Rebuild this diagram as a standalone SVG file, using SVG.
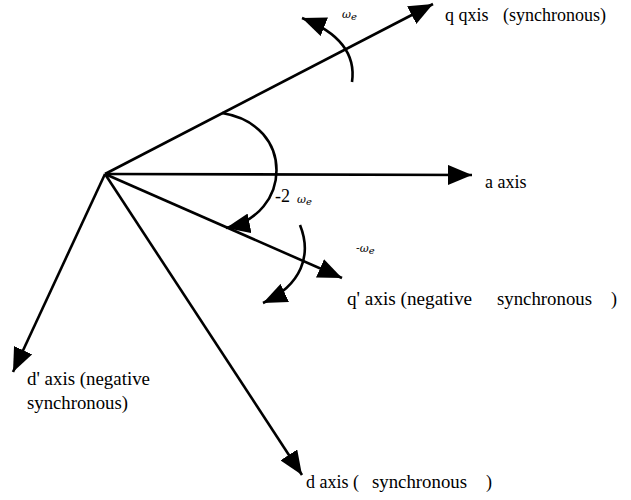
<svg xmlns="http://www.w3.org/2000/svg" width="631" height="500" viewBox="0 0 631 500">
<defs>
<marker id="ah" markerUnits="userSpaceOnUse" markerWidth="26" markerHeight="20" viewBox="0 0 26 20" refX="24" refY="10" orient="auto">
<path d="M0,0 L24,10 L0,20 Z" fill="#000"/>
</marker>
</defs>
<rect width="631" height="500" fill="#fff"/>
<g id="connectors" stroke="#000" stroke-width="2.6" fill="none" marker-end="url(#ah)">
<path d="M105,174 L433,4"/>
<path d="M105,174 L472,175"/>
<path d="M105,174 L342,278"/>
<path d="M105,174 L13,372"/>
<path d="M105,174 L302,475"/>
<path d="M352,82 Q358,40 302,18"/>
<path d="M222,113 C296,125 292,215 226,228"/>
<path d="M300,225 C312,255 302,285 263,303"/>
</g>
<g id="q-axis"><text font-family="Times New Roman, serif" font-size="18" x="445" y="21">q qxis</text><text font-family="Times New Roman, serif" font-size="18" x="503" y="21">(synchronous)</text></g>
<g id="a-axis"><text font-family="Times New Roman, serif" font-size="18" x="485" y="188">a axis</text></g>
<g id="q-prime-axis"><text font-family="Times New Roman, serif" font-size="18" x="347" y="305" textLength="125" lengthAdjust="spacingAndGlyphs">q' axis (negative</text><text font-family="Times New Roman, serif" font-size="18" x="497" y="305" textLength="95" lengthAdjust="spacingAndGlyphs">synchronous</text><text font-family="Times New Roman, serif" font-size="18" x="611" y="305">)</text></g>
<g id="d-prime-axis"><text font-family="Times New Roman, serif" font-size="18" x="27" y="385" textLength="123" lengthAdjust="spacingAndGlyphs">d' axis (negative</text><text font-family="Times New Roman, serif" font-size="18" x="27" y="409" textLength="101" lengthAdjust="spacingAndGlyphs">synchronous)</text></g>
<g id="d-axis"><text font-family="Times New Roman, serif" font-size="18" x="306" y="488">d axis (</text><text font-family="Times New Roman, serif" font-size="18" x="372" y="488" textLength="95" lengthAdjust="spacingAndGlyphs">synchronous</text><text font-family="Times New Roman, serif" font-size="18" x="486" y="488">)</text></g>
<g id="we-2"><text font-family="Times New Roman, serif" font-size="18" x="275" y="202">-2</text></g>
<g id="we-top"><text font-family="DejaVu Serif, serif" font-size="11" font-style="italic" x="342" y="18">ω<tspan font-size="10" dy="2">e</tspan></text></g>
<g id="we-2-omega"><text font-family="DejaVu Serif, serif" font-size="11" font-style="italic" x="297" y="203">ω<tspan font-size="10" dy="2">e</tspan></text></g>
<g id="we-neg"><text font-family="DejaVu Serif, serif" font-size="11" x="356" y="252">-<tspan font-style="italic">ω</tspan><tspan font-style="italic" font-size="10" dy="2">e</tspan></text></g>
</svg>
